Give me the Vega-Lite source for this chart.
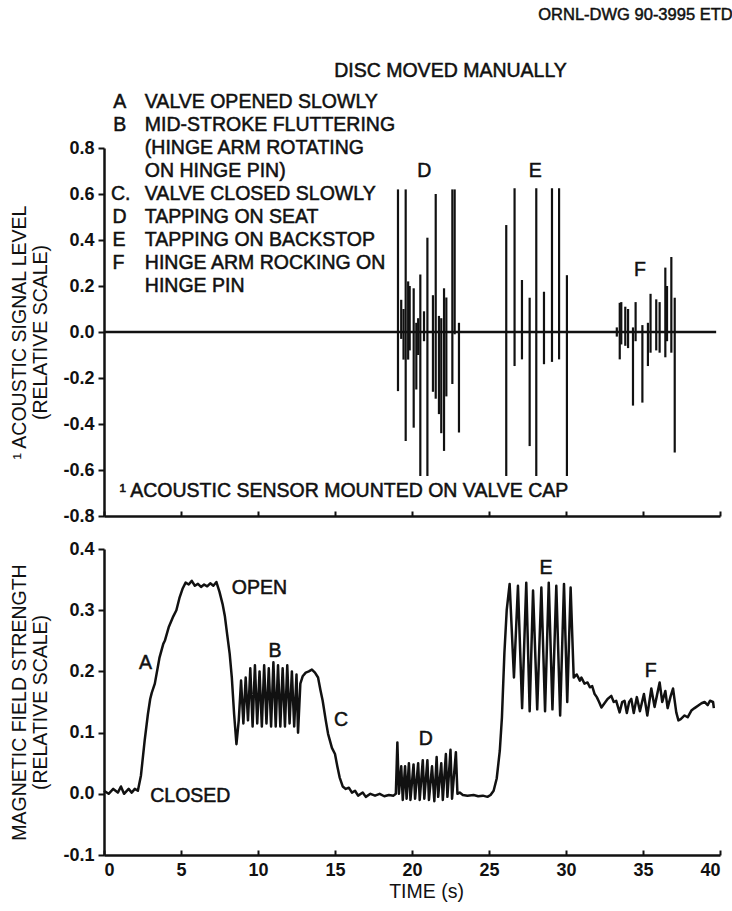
{
  "$schema": "https://vega.github.io/schema/vega-lite/v6.json",
  "background": "white",
  "padding": {"left": 9, "top": 7, "right": 0, "bottom": 4},
  "spacing": 15,
  "config": {
    "view": {"stroke": null},
    "font": "Liberation Sans",
    "axis": {
      "grid": false,
      "domainColor": "#111",
      "domainWidth": 2.5,
      "tickColor": "#111",
      "tickWidth": 2,
      "labelFont": "Liberation Sans",
      "labelFontWeight": "bold",
      "labelFontSize": 18,
      "labelColor": "#111",
      "titleFont": "Liberation Sans",
      "titleFontWeight": "normal",
      "titleFontSize": 19.5,
      "titleColor": "#111",
      "titleLineHeight": 21
    },
    "text": {"font": "Liberation Sans", "fontSize": 19.5, "color": "#111", "stroke": "#111", "strokeWidth": 0.5}
  },
  "datasets": {
    "spikes": [
      {"t": 19.09, "lo": -0.257, "hi": 0.62},
      {"t": 19.3, "lo": -0.03, "hi": 0.14},
      {"t": 19.45, "lo": -0.12, "hi": 0.1},
      {"t": 19.59, "lo": -0.474, "hi": 0.62},
      {"t": 19.75, "lo": -0.12, "hi": 0.22},
      {"t": 19.85, "lo": -0.08, "hi": 0.2},
      {"t": 20.11, "lo": -0.416, "hi": 0.19},
      {"t": 20.28, "lo": -0.25, "hi": 0.04},
      {"t": 20.4, "lo": -0.1, "hi": 0.06},
      {"t": 20.54, "lo": -0.626, "hi": 0.25},
      {"t": 20.78, "lo": -0.04, "hi": 0.09},
      {"t": 21.0, "lo": -0.626, "hi": 0.41},
      {"t": 21.36, "lo": -0.26, "hi": 0.16},
      {"t": 21.54, "lo": -0.29, "hi": 0.6},
      {"t": 21.75, "lo": -0.357, "hi": 0.07},
      {"t": 21.9, "lo": -0.44, "hi": 0.06},
      {"t": 22.08, "lo": -0.517, "hi": 0.19},
      {"t": 22.23, "lo": -0.28, "hi": 0.15},
      {"t": 22.62, "lo": -0.226, "hi": 0.62},
      {"t": 22.77, "lo": -0.01, "hi": 0.62},
      {"t": 23.05, "lo": -0.437, "hi": 0.04},
      {"t": 26.12, "lo": -0.626, "hi": 0.465},
      {"t": 26.66, "lo": -0.148, "hi": 0.625},
      {"t": 27.14, "lo": -0.119, "hi": 0.226},
      {"t": 27.64, "lo": -0.496, "hi": 0.149},
      {"t": 28.07, "lo": -0.626, "hi": 0.625},
      {"t": 28.57, "lo": -0.14, "hi": 0.175},
      {"t": 29.09, "lo": -0.13, "hi": 0.625},
      {"t": 29.55, "lo": -0.119, "hi": 0.625},
      {"t": 30.06, "lo": -0.626, "hi": 0.247},
      {"t": 33.3, "lo": -0.02, "hi": 0.02},
      {"t": 33.49, "lo": -0.119, "hi": 0.127},
      {"t": 33.59, "lo": -0.054, "hi": 0.13},
      {"t": 33.85, "lo": -0.06, "hi": 0.11},
      {"t": 34.03, "lo": -0.07, "hi": 0.1},
      {"t": 34.35, "lo": -0.32, "hi": 0.02},
      {"t": 34.52, "lo": -0.04, "hi": 0.13},
      {"t": 34.96, "lo": -0.307, "hi": 0.03},
      {"t": 35.32, "lo": -0.148, "hi": 0.04},
      {"t": 35.49, "lo": -0.09, "hi": 0.166},
      {"t": 35.86, "lo": -0.08, "hi": 0.142},
      {"t": 36.08, "lo": -0.09, "hi": 0.13},
      {"t": 36.45, "lo": -0.11, "hi": 0.28},
      {"t": 36.56, "lo": -0.04, "hi": 0.2},
      {"t": 36.84, "lo": -0.09, "hi": 0.326},
      {"t": 37.06, "lo": -0.524, "hi": 0.149}
    ],
    "baseline": [{"t0": 0, "t1": 39.75, "v": 0}],
    "topLeft": [
      {"label": "ORNL-DWG 90-3995 ETD", "t": 28.2, "v": 1.378},
      {"label": "A", "t": 0.6, "v": 1.0},
      {"label": "B", "t": 0.6, "v": 0.9},
      {"label": "C.", "t": 0.45, "v": 0.6},
      {"label": "D", "t": 0.55, "v": 0.5},
      {"label": "E", "t": 0.55, "v": 0.4},
      {"label": "F", "t": 0.55, "v": 0.3},
      {"label": "VALVE OPENED SLOWLY", "t": 2.65, "v": 1.0},
      {"label": "MID-STROKE FLUTTERING", "t": 2.65, "v": 0.9},
      {"label": "(HINGE ARM  ROTATING", "t": 2.65, "v": 0.8},
      {"label": "ON HINGE PIN)", "t": 2.65, "v": 0.7},
      {"label": "VALVE CLOSED SLOWLY", "t": 2.65, "v": 0.6},
      {"label": "TAPPING ON SEAT", "t": 2.65, "v": 0.5},
      {"label": "TAPPING ON BACKSTOP", "t": 2.65, "v": 0.4},
      {"label": "HINGE ARM ROCKING ON", "t": 2.65, "v": 0.3},
      {"label": "HINGE PIN", "t": 2.65, "v": 0.2},
      {"label": "¹ ACOUSTIC SENSOR MOUNTED ON VALVE CAP", "t": 1.0, "v": -0.69}
    ],
    "topCenter": [
      {"label": "DISC MOVED MANUALLY", "t": 22.5, "v": 1.135},
      {"label": "D", "t": 20.8, "v": 0.7},
      {"label": "E", "t": 28.0, "v": 0.7},
      {"label": "F", "t": 34.8, "v": 0.27}
    ],
    "mag": [
      {"t": 0.0, "v": 0.005}, {"t": 0.3, "v": 0.0}, {"t": 0.6, "v": 0.008}, {"t": 0.9, "v": 0.002},
      {"t": 1.1, "v": 0.012}, {"t": 1.3, "v": 0.0}, {"t": 1.6, "v": 0.008}, {"t": 1.8, "v": 0.002},
      {"t": 2.0, "v": 0.008}, {"t": 2.2, "v": 0.005}, {"t": 2.4, "v": 0.03}, {"t": 2.64, "v": 0.087},
      {"t": 2.85, "v": 0.13}, {"t": 3.0, "v": 0.155}, {"t": 3.1, "v": 0.165}, {"t": 3.3, "v": 0.18},
      {"t": 3.6, "v": 0.222}, {"t": 3.85, "v": 0.245}, {"t": 3.95, "v": 0.25}, {"t": 4.2, "v": 0.272},
      {"t": 4.5, "v": 0.29}, {"t": 4.7, "v": 0.3}, {"t": 4.9, "v": 0.32}, {"t": 5.1, "v": 0.335},
      {"t": 5.3, "v": 0.345}, {"t": 5.5, "v": 0.342}, {"t": 5.7, "v": 0.348}, {"t": 5.9, "v": 0.34},
      {"t": 6.1, "v": 0.343}, {"t": 6.3, "v": 0.338}, {"t": 6.5, "v": 0.342}, {"t": 6.7, "v": 0.339},
      {"t": 6.9, "v": 0.344}, {"t": 7.1, "v": 0.34}, {"t": 7.3, "v": 0.346}, {"t": 7.5, "v": 0.33},
      {"t": 7.7, "v": 0.31}, {"t": 7.85, "v": 0.29}, {"t": 8.0, "v": 0.26}, {"t": 8.16, "v": 0.229},
      {"t": 8.3, "v": 0.19}, {"t": 8.45, "v": 0.13}, {"t": 8.6, "v": 0.081}, {"t": 8.75, "v": 0.12},
      {"t": 8.9, "v": 0.185}, {"t": 9.05, "v": 0.115}, {"t": 9.2, "v": 0.19}, {"t": 9.35, "v": 0.12},
      {"t": 9.5, "v": 0.205}, {"t": 9.65, "v": 0.11}, {"t": 9.8, "v": 0.21}, {"t": 9.95, "v": 0.115},
      {"t": 10.1, "v": 0.2}, {"t": 10.25, "v": 0.11}, {"t": 10.4, "v": 0.21}, {"t": 10.55, "v": 0.115},
      {"t": 10.7, "v": 0.205}, {"t": 10.85, "v": 0.11}, {"t": 11.0, "v": 0.215}, {"t": 11.15, "v": 0.11},
      {"t": 11.3, "v": 0.21}, {"t": 11.45, "v": 0.11}, {"t": 11.6, "v": 0.205}, {"t": 11.75, "v": 0.11},
      {"t": 11.9, "v": 0.21}, {"t": 12.05, "v": 0.115}, {"t": 12.2, "v": 0.2}, {"t": 12.35, "v": 0.11},
      {"t": 12.5, "v": 0.195}, {"t": 12.6, "v": 0.1}, {"t": 12.75, "v": 0.18}, {"t": 12.9, "v": 0.192},
      {"t": 13.1, "v": 0.198}, {"t": 13.3, "v": 0.2}, {"t": 13.5, "v": 0.203}, {"t": 13.7, "v": 0.198},
      {"t": 13.9, "v": 0.19}, {"t": 14.05, "v": 0.17}, {"t": 14.2, "v": 0.152}, {"t": 14.4, "v": 0.12},
      {"t": 14.55, "v": 0.098}, {"t": 14.8, "v": 0.075}, {"t": 15.0, "v": 0.065}, {"t": 15.15, "v": 0.045},
      {"t": 15.3, "v": 0.027}, {"t": 15.5, "v": 0.012}, {"t": 15.7, "v": 0.008}, {"t": 15.9, "v": 0.01},
      {"t": 16.1, "v": 0.002}, {"t": 16.3, "v": 0.005}, {"t": 16.5, "v": -0.003}, {"t": 16.8, "v": 0.002},
      {"t": 17.0, "v": -0.005}, {"t": 17.3, "v": 0.0}, {"t": 17.6, "v": -0.003}, {"t": 17.9, "v": 0.0},
      {"t": 18.2, "v": -0.004}, {"t": 18.5, "v": -0.002}, {"t": 18.8, "v": -0.003}, {"t": 18.95, "v": 0.0},
      {"t": 19.05, "v": 0.084}, {"t": 19.15, "v": 0.0}, {"t": 19.3, "v": 0.045}, {"t": 19.4, "v": -0.01},
      {"t": 19.55, "v": 0.045}, {"t": 19.65, "v": -0.008}, {"t": 19.8, "v": 0.05}, {"t": 19.9, "v": -0.01},
      {"t": 20.1, "v": 0.048}, {"t": 20.2, "v": -0.008}, {"t": 20.4, "v": 0.05}, {"t": 20.5, "v": -0.01},
      {"t": 20.7, "v": 0.055}, {"t": 20.8, "v": -0.008}, {"t": 21.0, "v": 0.055}, {"t": 21.1, "v": -0.01},
      {"t": 21.3, "v": 0.045}, {"t": 21.45, "v": -0.012}, {"t": 21.6, "v": 0.06}, {"t": 21.7, "v": -0.005},
      {"t": 21.9, "v": 0.05}, {"t": 22.0, "v": -0.01}, {"t": 22.2, "v": 0.065}, {"t": 22.3, "v": -0.005},
      {"t": 22.5, "v": 0.072}, {"t": 22.6, "v": -0.008}, {"t": 22.85, "v": 0.068}, {"t": 22.95, "v": 0.0},
      {"t": 23.1, "v": 0.002}, {"t": 23.3, "v": -0.002}, {"t": 23.6, "v": -0.003}, {"t": 24.0, "v": -0.002},
      {"t": 24.3, "v": -0.004}, {"t": 24.6, "v": -0.003}, {"t": 24.9, "v": -0.005}, {"t": 25.1, "v": -0.002},
      {"t": 25.3, "v": 0.005}, {"t": 25.5, "v": 0.025}, {"t": 25.7, "v": 0.07}, {"t": 25.84, "v": 0.125},
      {"t": 26.0, "v": 0.23}, {"t": 26.15, "v": 0.3}, {"t": 26.34, "v": 0.343}, {"t": 26.62, "v": 0.19},
      {"t": 26.88, "v": 0.34}, {"t": 27.15, "v": 0.14}, {"t": 27.42, "v": 0.345}, {"t": 27.64, "v": 0.135},
      {"t": 27.86, "v": 0.332}, {"t": 28.13, "v": 0.138}, {"t": 28.4, "v": 0.337}, {"t": 28.64, "v": 0.135},
      {"t": 28.88, "v": 0.345}, {"t": 29.12, "v": 0.138}, {"t": 29.37, "v": 0.34}, {"t": 29.62, "v": 0.128},
      {"t": 29.87, "v": 0.343}, {"t": 30.08, "v": 0.15}, {"t": 30.3, "v": 0.337}, {"t": 30.5, "v": 0.19},
      {"t": 30.7, "v": 0.195}, {"t": 30.9, "v": 0.185}, {"t": 31.0, "v": 0.19}, {"t": 31.2, "v": 0.18},
      {"t": 31.4, "v": 0.182}, {"t": 31.55, "v": 0.174}, {"t": 31.7, "v": 0.176}, {"t": 31.86, "v": 0.163},
      {"t": 32.0, "v": 0.158}, {"t": 32.15, "v": 0.15}, {"t": 32.3, "v": 0.141}, {"t": 32.5, "v": 0.148},
      {"t": 32.7, "v": 0.155}, {"t": 32.94, "v": 0.16}, {"t": 33.1, "v": 0.15}, {"t": 33.26, "v": 0.152},
      {"t": 33.48, "v": 0.133}, {"t": 33.65, "v": 0.15}, {"t": 33.8, "v": 0.152}, {"t": 33.95, "v": 0.132},
      {"t": 34.1, "v": 0.15}, {"t": 34.24, "v": 0.155}, {"t": 34.4, "v": 0.132}, {"t": 34.6, "v": 0.158},
      {"t": 34.8, "v": 0.135}, {"t": 35.06, "v": 0.163}, {"t": 35.28, "v": 0.128}, {"t": 35.54, "v": 0.172},
      {"t": 35.75, "v": 0.142}, {"t": 35.9, "v": 0.16}, {"t": 36.08, "v": 0.182}, {"t": 36.25, "v": 0.15},
      {"t": 36.45, "v": 0.168}, {"t": 36.6, "v": 0.14}, {"t": 36.8, "v": 0.16}, {"t": 36.95, "v": 0.172},
      {"t": 37.16, "v": 0.133}, {"t": 37.3, "v": 0.12}, {"t": 37.45, "v": 0.122}, {"t": 37.7, "v": 0.128},
      {"t": 37.9, "v": 0.125}, {"t": 38.14, "v": 0.136}, {"t": 38.35, "v": 0.14}, {"t": 38.57, "v": 0.144},
      {"t": 38.8, "v": 0.148}, {"t": 39.0, "v": 0.15}, {"t": 39.2, "v": 0.145}, {"t": 39.35, "v": 0.152},
      {"t": 39.55, "v": 0.15}, {"t": 39.6, "v": 0.14}
    ],
    "botLeft": [
      {"label": "OPEN", "t": 8.3, "v": 0.336},
      {"label": "CLOSED", "t": 3.0, "v": -0.003}
    ],
    "botCenter": [
      {"label": "A", "t": 2.7, "v": 0.213},
      {"label": "B", "t": 11.1, "v": 0.234},
      {"label": "C", "t": 15.4, "v": 0.12},
      {"label": "D", "t": 20.9, "v": 0.09},
      {"label": "E", "t": 28.7, "v": 0.369},
      {"label": "F", "t": 35.5, "v": 0.2}
    ]
  },
  "vconcat": [
    {
      "width": 616,
      "height": 368,
      "layer": [
        {
          "data": {"name": "baseline"},
          "mark": {"type": "rule", "color": "#111", "strokeWidth": 2.5},
          "encoding": {
            "x": {"field": "t0", "type": "quantitative", "scale": {"domain": [0, 40], "nice": false},
              "axis": {"labels": false, "title": null, "values": [0, 5, 10, 15, 20, 25, 30, 35, 40], "tickSize": -5}},
            "x2": {"field": "t1"},
            "y": {"field": "v", "type": "quantitative", "scale": {"domain": [-0.8, 0.8], "nice": false},
              "axis": {"values": [-0.8, -0.6, -0.4, -0.2, 0, 0.2, 0.4, 0.6, 0.8], "tickSize": 6, "labelPadding": 4, "titlePadding": 12,
                "labelExpr": "replace(format(datum.value, '.1f'), '\u2212', '-')",
                "title": ["\u00b9 ACOUSTIC SIGNAL LEVEL", "(RELATIVE SCALE)"]}}
          }
        },
        {
          "data": {"name": "spikes"},
          "mark": {"type": "rule", "color": "#111", "strokeWidth": 2.2},
          "encoding": {
            "x": {"field": "t", "type": "quantitative"},
            "y": {"field": "lo", "type": "quantitative"},
            "y2": {"field": "hi"}
          }
        },
        {
          "data": {"name": "topLeft"},
          "mark": {"type": "text", "align": "left", "baseline": "middle"},
          "encoding": {
            "x": {"field": "t", "type": "quantitative"},
            "y": {"field": "v", "type": "quantitative"},
            "text": {"field": "label"},
            "size": {"condition": {"test": "datum.label === 'ORNL-DWG 90-3995 ETD'", "value": 16.5}, "value": 19.5}
          }
        },
        {
          "data": {"name": "topCenter"},
          "mark": {"type": "text", "align": "center", "baseline": "middle"},
          "encoding": {
            "x": {"field": "t", "type": "quantitative"},
            "y": {"field": "v", "type": "quantitative"},
            "text": {"field": "label"}
          }
        }
      ]
    },
    {
      "width": 616,
      "height": 306,
      "layer": [
        {
          "data": {"name": "mag"},
          "mark": {"type": "line", "color": "#111", "strokeWidth": 2.5, "strokeJoin": "round"},
          "encoding": {
            "x": {"field": "t", "type": "quantitative", "scale": {"domain": [0, 40], "nice": false},
              "axis": {"values": [0, 5, 10, 15, 20, 25, 30, 35, 40], "format": "d", "tickSize": -5, "labelPadding": 11, "title": "TIME (s)", "titlePadding": 3, "titleX": 322, "titleAlign": "center"}},
            "y": {"field": "v", "type": "quantitative", "scale": {"domain": [-0.1, 0.4], "nice": false},
              "axis": {"values": [-0.1, 0, 0.1, 0.2, 0.3, 0.4], "tickSize": 6, "labelPadding": 4, "titlePadding": 12,
                "labelExpr": "replace(format(datum.value, '.1f'), '\u2212', '-')",
                "title": ["MAGNETIC FIELD STRENGTH", "(RELATIVE SCALE)"]}}
          }
        },
        {
          "data": {"name": "botLeft"},
          "mark": {"type": "text", "align": "left", "baseline": "middle"},
          "encoding": {
            "x": {"field": "t", "type": "quantitative"},
            "y": {"field": "v", "type": "quantitative"},
            "text": {"field": "label"}
          }
        },
        {
          "data": {"name": "botCenter"},
          "mark": {"type": "text", "align": "center", "baseline": "middle"},
          "encoding": {
            "x": {"field": "t", "type": "quantitative"},
            "y": {"field": "v", "type": "quantitative"},
            "text": {"field": "label"}
          }
        }
      ]
    }
  ]
}
